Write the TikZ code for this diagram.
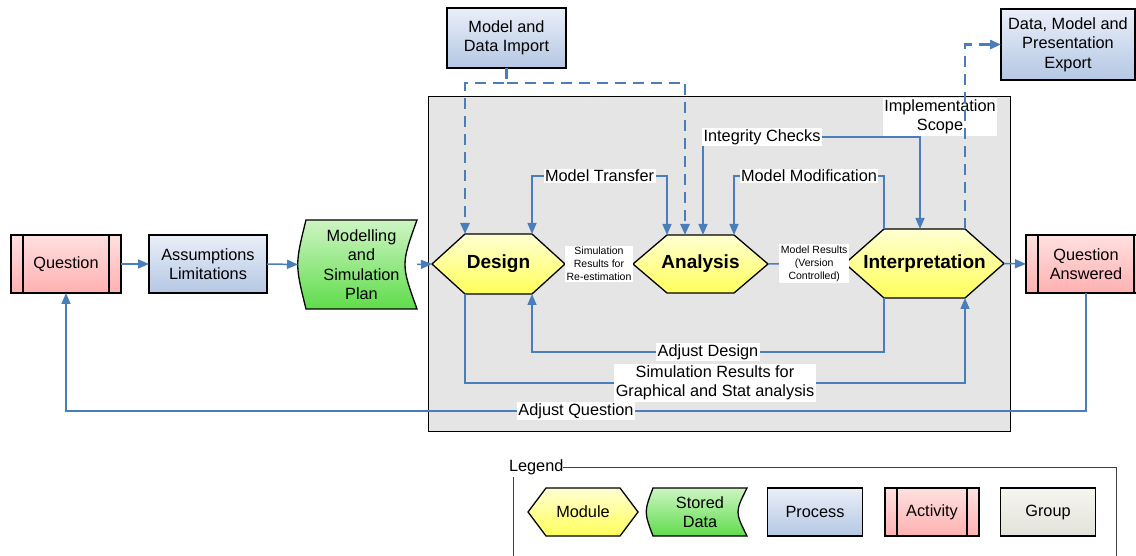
\documentclass[tikz,border=0pt]{standalone}
\usepackage{fontspec}
\setmainfont{Liberation Sans}
\usetikzlibrary{arrows.meta}
\pgfdeclarelayer{back}
\pgfdeclarelayer{mid}
\pgfsetlayers{back,mid,main}
\definecolor{connblue}{RGB}{74,126,187}
\definecolor{procT}{RGB}{234,239,248}
\definecolor{procB}{RGB}{180,199,228}
\definecolor{actT}{RGB}{255,224,224}
\definecolor{actB}{RGB}{255,176,176}
\definecolor{modT}{RGB}{255,255,210}
\definecolor{modB}{RGB}{255,255,90}
\definecolor{stT}{RGB}{205,245,195}
\definecolor{stB}{RGB}{95,220,75}
\definecolor{grpT}{RGB}{246,246,240}
\definecolor{grpB}{RGB}{226,226,218}
\definecolor{grpgray}{RGB}{229,229,229}
\newcommand\mainfs{\fontsize{16.3pt}{19.5pt}\selectfont}
\newcommand\smallfs{\fontsize{10.5pt}{13pt}\selectfont}
\newcommand\modfs{\fontsize{19pt}{22pt}\selectfont\bfseries}
\newcommand\hexfill[2]{\begin{pgfonlayer}{mid}\path[modfill] (#1.west) -- ([xshift=#2]#1.north west) -- ([xshift=-#2]#1.north east) -- (#1.east) -- ([xshift=-#2]#1.south east) -- ([xshift=#2]#1.south west) -- cycle;\end{pgfonlayer}}
\newcommand\storefill[3]{\begin{pgfonlayer}{mid}\path[storedfill] (#1.north west) -- (#1.north east) .. controls ([xshift=-#3]#1.east) .. (#1.south east) -- (#1.south west) .. controls ([xshift=-#2]#1.west) .. (#1.north west) -- cycle;\end{pgfonlayer}}
\newcommand\actlines[2]{\draw[line width=1.3pt] ([xshift=#2]#1.north west) -- ([xshift=#2]#1.south west) ([xshift=-#2]#1.north east) -- ([xshift=-#2]#1.south east);}
\begin{document}
\begin{tikzpicture}[x=1pt,y=-1pt,
  >={Triangle[length=11pt,width=9pt]},
  txt/.style={font=\mainfs, align=center, inner sep=0pt, outer sep=0pt},
  process/.style={txt, draw=black, line width=1.3pt, top color=procT, bottom color=procB},
  activity/.style={txt, draw=black, line width=1.3pt, top color=actT, bottom color=actB},
  legendgroup/.style={txt, draw=black, line width=1.3pt, top color=grpT, bottom color=grpB},
  module/.style={font=\modfs, inner sep=0pt, outer sep=0pt},
  modfill/.style={draw=black, line width=1.3pt, top color=modT, bottom color=modB},
  storedfill/.style={draw=black, line width=1.3pt, top color=stT, bottom color=stB},
  conn/.style={draw=connblue, line width=1.5pt},
  dashconn/.style={draw=connblue, line width=2.7pt, dash pattern=on 11pt off 7pt},
  lbl/.style={fill=white, inner sep=1.5pt, font=\mainfs, align=center, text=black},
  slbl/.style={fill=white, inner sep=1.5pt, font=\smallfs, align=center, text=black},
  legline/.style={draw=black!75, line width=1pt}
]
\useasboundingbox (0,0) rectangle (1136,556);
\begin{pgfonlayer}{back}
\fill[white] (0,0) rectangle (1136,556);
\node[draw=black, line width=1pt, fill=grpgray, minimum width=582pt, minimum height=334pt, inner sep=0pt] (grp) at (719,264) {};
\end{pgfonlayer}
\clip (0,0) rectangle (1136,556);

% main chain
\node[activity, minimum width=110pt, minimum height=58pt] (q) at (66,264) {Question};
\actlines{q}{12pt}
\node[process, minimum width=118pt, minimum height=58pt] (assm) at (208,264) {Assumptions\\Limitations};
\node[txt, minimum width=111pt, minimum height=89pt] (plan) at (361.5,264.5) {Modelling\\and\\Simulation\\Plan};
\storefill{plan}{11pt}{16pt}

\node[module, minimum width=133pt, minimum height=60pt] (design) at (498.5,264) {Design};
\hexfill{design}{33pt}
\node[module, minimum width=135pt, minimum height=58pt] (analysis) at (700.5,264) {Analysis};
\hexfill{analysis}{34pt}
\node[module, minimum width=159pt, minimum height=69pt] (interp) at (924.5,263.5) {Interpretation};
\hexfill{interp}{39pt}

\node[activity, minimum width=120pt, minimum height=58pt] (qa) at (1086,264) {Question\\Answered};
\actlines{qa}{12pt}

\node[process, minimum width=119pt, minimum height=60pt] (imp) at (506.5,38) {Model and\\Data Import};
\node[process, minimum width=134pt, minimum height=71pt] (exp) at (1068,44.5) {Data, Model and\\Presentation\\Export};

\node[lbl] (impl) at (940,117) {Implementation\\Scope};

% connectors
\draw[conn,->] (q.east) -- (assm.west);
\draw[conn,->] (assm.east) -- ([xshift=-8pt]plan.west);
\draw[conn,->] (plan.east) -- (design.west);
\draw[conn,->] (interp.east) -- (qa.west);

\coordinate (impj) at (imp.south |- 0,83);
\draw[dashconn,->] (imp.south) -- (impj) -| ([xshift=33pt]design.north west);
\draw[dashconn,->] (impj) -| ([xshift=-15.5pt]analysis.north);

\draw[conn,<->] ([xshift=-33pt]design.north east) -- ++(0,-58) -| node[pos=0.25,lbl]{Model Transfer} ([xshift=34pt]analysis.north west);
\draw[conn,<->] ([xshift=2.5pt]analysis.north) -- ++(0,-98) -| node[pos=0.136,lbl]{Integrity Checks} ([xshift=-4.5pt]interp.north);
\draw[conn,->] ([xshift=39pt]interp.north west) -- ++(0,-53) -| node[pos=0.25,lbl]{Model Modification} ([xshift=-34pt]analysis.north east);

\draw[conn] (design.east) -- node[slbl]{Simulation\\Results for\\Re-estimation} (analysis.west);
\draw[conn] (analysis.east) -- node[pos=0.6,slbl]{Model Results\\(Version\\Controlled)} (interp.west);

\draw[dashconn,->] ([xshift=-39pt]interp.north east) |- (exp.west);

\draw[conn,->] ([xshift=39pt]interp.south west) -- ++(0,54) -| node[pos=0.25,lbl]{Adjust Design} ([xshift=-33pt]design.south east);
\draw[conn,->] ([xshift=33pt]design.south west) -- ++(0,89) -| node[pos=0.25,lbl]{Simulation Results for\\Graphical and Stat analysis} ([xshift=-39pt]interp.south east);
\draw[conn,->] (qa.south) -- ++(0,118) -| node[pos=0.25,lbl]{Adjust Question} (q.south);

% legend
\node[txt, anchor=west] (legend) at (509,467) {Legend};
\draw[legline] (legend.east) -- (legend.east -| 1116,0) -- (1116,556);
\draw[legline] (513,477) -- (513,556);
\node[txt, minimum width=110pt, minimum height=48pt] (lmod) at (583,512) {Module};
\hexfill{lmod}{18pt}
\node[txt, minimum width=94pt, minimum height=48pt] (lstore) at (700,512) {Stored\\Data};
\storefill{lstore}{9pt}{12pt}
\node[process, minimum width=95pt, minimum height=48pt] (lproc) at (815,512) {Process};
\node[activity, minimum width=94pt, minimum height=48pt] (lact) at (932,512) {Activity};
\actlines{lact}{12pt}
\node[legendgroup, minimum width=95pt, minimum height=48pt] (lgrp) at (1048,512) {Group};
\end{tikzpicture}
\end{document}
